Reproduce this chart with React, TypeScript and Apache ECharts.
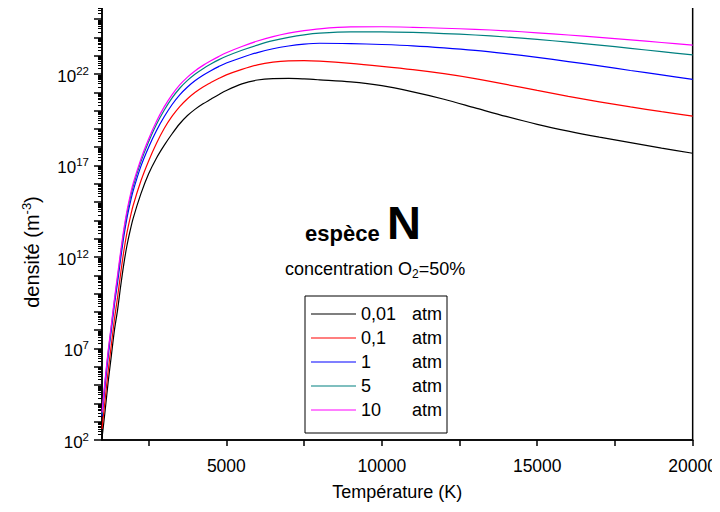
import React, { useEffect, useRef } from "react";
import * as echarts from "echarts";

// Temperature grid (K)
const temperatures = [
  1000, 1100, 1200, 1300, 1400, 1500, 1600, 1700, 1800, 1900, 2000, 2250, 2500, 2750, 3000, 3250, 3500,
  3750, 4000, 4250, 4500, 4750, 5000, 5500, 6000, 6500, 7000, 7500, 8000, 9000, 10000, 11000, 12000, 13000,
  14000, 15000, 16000, 17000, 18000, 19000, 20000,
];

// log10 of density (m^-3)
const p001 = [
  2.1, 3.6, 5.2, 6.6, 8.0, 9.1, 10.4, 11.6, 12.6, 13.4, 14.1, 15.45, 16.55, 17.4, 18.1, 18.72, 19.28,
  19.73, 20.08, 20.37, 20.62, 20.87, 21.1, 21.46, 21.67, 21.75, 21.76, 21.73, 21.68, 21.57, 21.36, 21.02, 20.62, 20.15,
  19.68, 19.25, 18.88, 18.55, 18.25, 17.95, 17.67,
];
const p01 = [
  2.6, 4.2, 5.8, 7.2, 8.6, 9.8, 11.1, 12.3, 13.3, 14.1, 14.8, 16.15, 17.25, 18.2, 19.02, 19.68, 20.22,
  20.65, 21.0, 21.29, 21.53, 21.75, 21.95, 22.25, 22.5, 22.65, 22.72, 22.73, 22.7, 22.58, 22.42, 22.24, 22.02, 21.75,
  21.43, 21.1, 20.78, 20.48, 20.2, 19.94, 19.7,
];
const p1 = [
  3.3, 5.0, 6.6, 8.0, 9.4, 10.6, 11.9, 13.1, 14.1, 14.9, 15.6, 16.95, 18.0, 18.9, 19.66, 20.32, 20.86,
  21.29, 21.64, 21.93, 22.18, 22.4, 22.6, 22.9, 23.17, 23.38, 23.53, 23.63, 23.68, 23.66, 23.61, 23.54, 23.43, 23.29,
  23.11, 22.91, 22.68, 22.44, 22.19, 21.95, 21.71,
];
const p5 = [
  3.4, 5.2, 6.8, 8.2, 9.6, 10.85, 12.15, 13.35, 14.35, 15.15, 15.85, 17.2, 18.3, 19.24, 20.02, 20.68, 21.22,
  21.65, 22.0, 22.29, 22.54, 22.77, 22.97, 23.3, 23.58, 23.82, 24.0, 24.14, 24.23, 24.3, 24.3, 24.27, 24.21, 24.13,
  24.02, 23.89, 23.74, 23.58, 23.4, 23.22, 23.04,
];
const p10 = [
  3.5, 5.3, 6.9, 8.3, 9.7, 11.0, 12.3, 13.5, 14.5, 15.3, 16.0, 17.35, 18.45, 19.4, 20.2, 20.86, 21.4,
  21.83, 22.18, 22.47, 22.72, 22.95, 23.16, 23.5, 23.8, 24.04, 24.23, 24.37, 24.47, 24.57, 24.58, 24.55, 24.5, 24.44,
  24.36, 24.25, 24.13, 24.0, 23.86, 23.72, 23.58,
];

const seriesNames = ["0,01 atm", "0,1 atm", "1 atm", "5 atm", "10 atm"];
const seriesColors = ["#000000", "#ff0000", "#0000ff", "#008080", "#ff00ff"];
const seriesData = [p001, p01, p1, p5, p10];

const xTickValues = [2500, 5000, 7500, 10000, 12500, 15000, 17500, 20000];
const xLabelValues = [5000, 10000, 15000, 20000];
const yMajorTicks = [2, 3, 4, 5, 6, 7, 8, 9, 10, 11, 12, 13, 14, 15, 16, 17, 18, 19, 20, 21, 22, 23, 24, 25];
const yLabelExponents = [2, 7, 12, 17, 22];

const FONT = "Liberation Sans, Arial, sans-serif";

export default function App() {
  const ref = useRef<HTMLDivElement>(null);
  useEffect(() => {
    if (!ref.current) return;
    const chart = echarts.init(ref.current, undefined, { renderer: "svg" });
    const yMinor: number[] = [];
    for (const k of yMajorTicks) {
      for (let m = 2; m <= 9; m++) {
        const v = k + Math.log10(m);
        if (v <= 25.66) yMinor.push(v);
      }
    }
    chart.setOption({
      animation: false,
      backgroundColor: "#ffffff",
      textStyle: { fontFamily: FONT },
      grid: {
        left: 102,
        right: 27,
        top: 7,
        bottom: 72,
        show: true,
        borderColor: "#000",
        borderWidth: 1.5,
        backgroundColor: "transparent",
      },
      legend: {
        orient: "vertical",
        left: 305,
        top: 296,
        data: seriesNames,
        icon: "rect",
        itemWidth: 45,
        itemHeight: 1.2,
        itemGap: 6,
        padding: [9, 5, 14, 6],
        borderColor: "#000",
        borderWidth: 1,
        backgroundColor: "#fff",
        borderRadius: 0,
        textStyle: {
          fontSize: 18,
          fontFamily: FONT,
          color: "#000",
          lineHeight: 18,
          rich: {
            n: { fontSize: 18, width: 51, fontFamily: FONT, color: "#000", lineHeight: 18 },
            u: { fontSize: 18, fontFamily: FONT, color: "#000", lineHeight: 18 },
          },
        },
        formatter: (name: string) => {
          const parts = name.split(/\s+/);
          return `{n|${parts[0]}}{u|${parts[1]}}`;
        },
      },
      xAxis: {
        type: "value",
        min: 1000,
        max: 20000,
        name: "Température (K)",
        nameLocation: "middle",
        nameGap: 43,
        nameTextStyle: { fontSize: 18, color: "#000", fontFamily: FONT },
        axisLine: { show: true, lineStyle: { color: "#000", width: 1.5 } },
        axisTick: { show: true, length: 6, customValues: xTickValues, lineStyle: { color: "#000", width: 1.5 } },
        axisLabel: {
          customValues: xLabelValues,
          fontSize: 17.5,
          color: "#000",
          margin: 17,
          fontFamily: FONT,
          formatter: (v: number) => String(v),
        },
        splitLine: { show: false },
      },
      yAxis: [
        {
          type: "value",
          min: 2,
          max: 25.66,
          axisLine: { show: true, lineStyle: { color: "#000", width: 1.5 } },
          axisTick: { show: true, length: 8, customValues: yMajorTicks, lineStyle: { color: "#000", width: 1.5 } },
          axisLabel: {
            customValues: yLabelExponents,
            color: "#000",
            margin: 13,
            formatter: (v: number) => `{b|10}{s|${Math.round(v)}}`,
            rich: {
              b: { fontSize: 17, fontFamily: FONT, color: "#000", verticalAlign: "bottom", lineHeight: 22 },
              s: {
                fontSize: 11.5,
                fontFamily: FONT,
                color: "#000",
                verticalAlign: "bottom",
                lineHeight: 22,
                padding: [0, 0, 8, 0],
              },
            },
          },
          splitLine: { show: false },
        },
        {
          type: "value",
          min: 2,
          max: 25.66,
          position: "left",
          axisLine: { show: false },
          axisTick: { show: true, length: 4, customValues: yMinor, lineStyle: { color: "#000", width: 1 } },
          axisLabel: { show: false },
          splitLine: { show: false },
        },
      ],
      series: seriesData.map((d, i) => ({
        name: seriesNames[i],
        type: "line",
        yAxisIndex: 0,
        data: temperatures.map((t, j) => [t, d[j]]),
        showSymbol: false,
        symbol: "none",
        smooth: 0.3,
        clip: true,
        lineStyle: { color: seriesColors[i], width: 1.2 },
        itemStyle: { color: seriesColors[i] },
      })),
      graphic: [
        {
          type: "text",
          x: 30,
          y: 252,
          rotation: Math.PI / 2,
          style: {
            text: "{b|densité (m}{s|-3}{b|)}",
            align: "center",
            verticalAlign: "middle",
            rich: {
              b: { fontSize: 20, fontFamily: FONT, fill: "#000", verticalAlign: "bottom", lineHeight: 24 },
              s: {
                fontSize: 13,
                fontFamily: FONT,
                fill: "#000",
                verticalAlign: "bottom",
                lineHeight: 24,
                padding: [0, 0, 9, 0],
              },
            },
          },
        },
        {
          type: "text",
          x: 305,
          y: 233,
          style: {
            text: "espèce",
            fontSize: 22,
            fontWeight: "bold",
            fontFamily: FONT,
            fill: "#000",
            verticalAlign: "middle",
          },
        },
        {
          type: "text",
          x: 387,
          y: 222,
          style: {
            text: "N",
            fontSize: 47,
            fontWeight: "bold",
            fontFamily: FONT,
            fill: "#000",
            verticalAlign: "middle",
          },
        },
        {
          type: "text",
          x: 285,
          y: 270,
          style: {
            text: "{b|concentration O}{s|2}{b|=50%}",
            verticalAlign: "middle",
            rich: {
              b: { fontSize: 18, fontFamily: FONT, fill: "#000", verticalAlign: "top", lineHeight: 20 },
              s: {
                fontSize: 12,
                fontFamily: FONT,
                fill: "#000",
                verticalAlign: "top",
                lineHeight: 20,
                padding: [8, 0, 0, 0],
              },
            },
          },
        },
      ],
    });
    return () => chart.dispose();
  }, []);
  return <div ref={ref} style={{ width: 720, height: 512, margin: -8 }} />;
}
